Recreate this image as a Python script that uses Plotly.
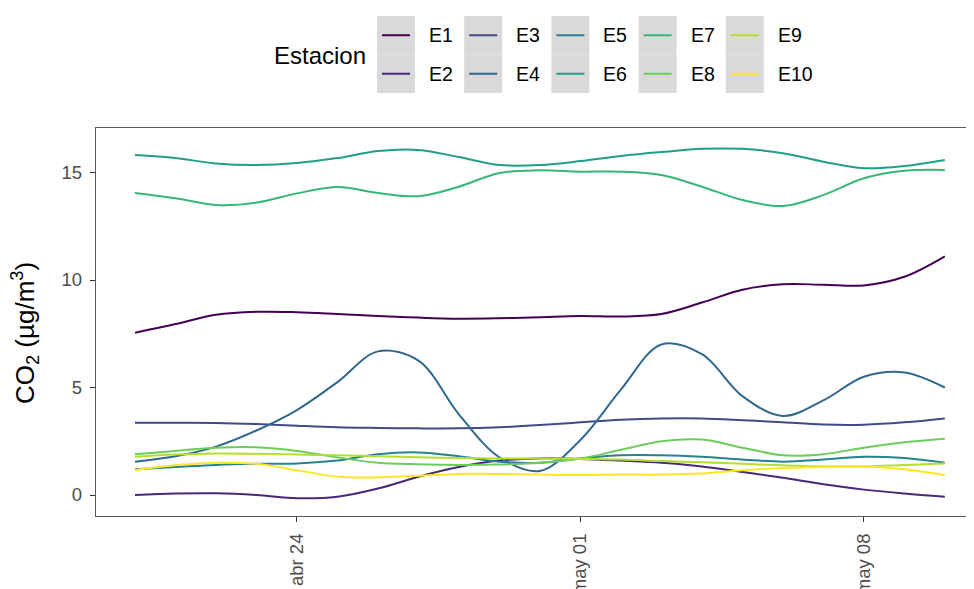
import pandas as pd
import plotly.graph_objects as go

# ---------------- data ----------------
start_date = "2021-04-20"
n_days = 21
dates = pd.date_range(start_date, periods=n_days, freq="D")

stations = ["E1", "E2", "E3", "E4", "E5", "E6", "E7", "E8", "E9", "E10"]
colors = ["#440154", "#482878", "#3E4A89", "#31688E", "#26828E",
          "#1F9E89", "#35B779", "#6DCD59", "#B4DE2C", "#FDE725"]

E1 = [7.55, 7.95, 8.38, 8.52, 8.50, 8.42, 8.33, 8.25, 8.20, 8.22, 8.27,
      8.32, 8.30, 8.42, 8.95, 9.55, 9.80, 9.78, 9.75, 10.15, 11.10]
E2 = [0.00, 0.07, 0.08, 0.00, -0.15, -0.08, 0.30, 0.85, 1.30, 1.60, 1.70,
      1.68, 1.60, 1.50, 1.33, 1.07, 0.80, 0.50, 0.25, 0.07, -0.08]
E3 = [3.36, 3.36, 3.35, 3.30, 3.22, 3.15, 3.12, 3.10, 3.10, 3.15, 3.25,
      3.38, 3.50, 3.56, 3.56, 3.48, 3.38, 3.28, 3.27, 3.38, 3.56]
E4 = [1.55, 1.80, 2.25, 3.00, 3.95, 5.25, 6.68, 6.25, 3.75, 1.75, 1.12,
      2.56, 4.90, 7.00, 6.55, 4.60, 3.68, 4.40, 5.50, 5.70, 5.00]
E5 = [1.20, 1.30, 1.40, 1.45, 1.47, 1.60, 1.90, 1.98, 1.80, 1.55, 1.50,
      1.70, 1.85, 1.85, 1.78, 1.65, 1.55, 1.65, 1.78, 1.72, 1.50]
E6 = [15.81, 15.67, 15.42, 15.35, 15.44, 15.67, 16.00, 16.05, 15.72, 15.35, 15.35,
      15.53, 15.77, 15.95, 16.10, 16.10, 15.90, 15.50, 15.20, 15.30, 15.58]
E7 = [14.05, 13.80, 13.49, 13.60, 14.03, 14.33, 14.05, 13.90, 14.34, 14.98, 15.10,
      15.04, 15.04, 14.88, 14.34, 13.72, 13.44, 13.95, 14.73, 15.08, 15.12]
E8 = [1.89, 2.05, 2.20, 2.22, 2.05, 1.75, 1.50, 1.43, 1.40, 1.42, 1.50,
      1.70, 2.10, 2.50, 2.58, 2.20, 1.85, 1.90, 2.20, 2.45, 2.62]
E9 = [1.78, 1.88, 1.93, 1.92, 1.88, 1.85, 1.80, 1.76, 1.72, 1.70, 1.70,
      1.68, 1.65, 1.58, 1.52, 1.45, 1.38, 1.33, 1.33, 1.40, 1.47]
E10 = [1.16, 1.38, 1.50, 1.45, 1.15, 0.85, 0.82, 0.90, 0.98, 0.98, 0.95,
       0.93, 0.95, 0.95, 1.00, 1.15, 1.25, 1.30, 1.32, 1.20, 0.93]
series = [E1, E2, E3, E4, E5, E6, E7, E8, E9, E10]

tick_dates = ["2021-04-24", "2021-05-01", "2021-05-08"]
tick_labels = ["abr 24", "may 01", "may 08"]
y_ticks = [0, 5, 10, 15]

legend_title = "Estacion"
y_title = "CO<sub>2</sub> (µg/m<sup>3</sup>)"

# ---------------- figure ----------------
OFF = 8                      # page body margin offset
W, H = 974 - OFF, 589 - OFF
L, R, T, B = 96 - OFF, 0, 128 - OFF, 73
PW, PH = W - L - R, H - T - B
FONT = "Liberation Sans, Arial, sans-serif"


def px(x):
    """screen pixel x -> paper coordinate"""
    return (x - OFF - L) / PW


def py(y):
    """screen pixel y -> paper coordinate"""
    return (H - B - (y - OFF)) / PH


fig = go.Figure()
for name, col, vals in zip(stations, colors, series):
    fig.add_trace(go.Scatter(
        x=dates, y=vals, name=name, mode="lines",
        line=dict(color=col, width=2, shape="spline", smoothing=1.0),
        showlegend=False, hoverinfo="x+y+name"))

x0 = pd.Timestamp(start_date) - pd.Timedelta(hours=23.1)
x1 = pd.Timestamp(start_date) + pd.Timedelta(hours=20.72 * 24)

fig.update_layout(
    width=W, height=H,
    margin=dict(l=L, r=R, t=T, b=B, pad=0),
    paper_bgcolor="white", plot_bgcolor="white",
    font=dict(family=FONT, color="#4D4D4D"),
    xaxis=dict(
        range=[x0, x1], tickmode="array", tickvals=tick_dates, ticktext=tick_labels,
        tickangle=-90, tickfont=dict(size=18.5, color="#4D4D4D"),
        ticks="outside", ticklen=5, tickcolor="#333333", tickwidth=1,
        showline=True, linecolor="#5a5a5a", linewidth=1.3, mirror=True,
        showgrid=False, zeroline=False, ticklabelstandoff=4, automargin=False,
    ),
    yaxis=dict(
        range=[-0.977, 17.07], tickmode="array", tickvals=y_ticks,
        tickfont=dict(size=18.5, color="#4D4D4D"),
        ticks="outside", ticklen=5, tickcolor="#333333", tickwidth=1,
        showline=True, linecolor="#5a5a5a", linewidth=1.3, mirror=False,
        showgrid=False, zeroline=False, ticklabelstandoff=4, automargin=False,
    ),
)

shapes = []
annotations = []

# y axis title
annotations.append(dict(
    x=px(25), y=py(333), xref="paper", yref="paper", text=y_title,
    textangle=-90, showarrow=False, xanchor="center", yanchor="middle",
    font=dict(size=26, color="black", family=FONT)))

# legend title
annotations.append(dict(
    x=px(272), y=py(55), xref="paper", yref="paper", text=legend_title,
    showarrow=False, xanchor="left", yanchor="middle",
    font=dict(size=24, color="black", family=FONT)))

# legend: 5 columns x 2 rows, column-major order
box_left0, col_step, box_w = 377, 87.2, 38
row_top0, row_h = 16, 38.5
for i, (name, col) in enumerate(zip(stations, colors)):
    c, r = divmod(i, 2)
    bx = box_left0 + c * col_step
    by = row_top0 + r * row_h
    shapes.append(dict(type="rect", xref="paper", yref="paper",
                       x0=px(bx), x1=px(bx + box_w), y0=py(by), y1=py(by + row_h),
                       fillcolor="#D9D9D9", line=dict(width=0), layer="below"))
    yc = by + row_h / 2
    shapes.append(dict(type="line", xref="paper", yref="paper",
                       x0=px(bx + 5), x1=px(bx + box_w - 5), y0=py(yc), y1=py(yc),
                       line=dict(color=col, width=2)))
    annotations.append(dict(
        x=px(bx + box_w + 12), y=py(yc), xref="paper", yref="paper", text=name,
        showarrow=False, xanchor="left", yanchor="middle",
        font=dict(size=19.5, color="black", family=FONT)))

fig.update_layout(shapes=shapes, annotations=annotations)

fig.write_html("out.html")
